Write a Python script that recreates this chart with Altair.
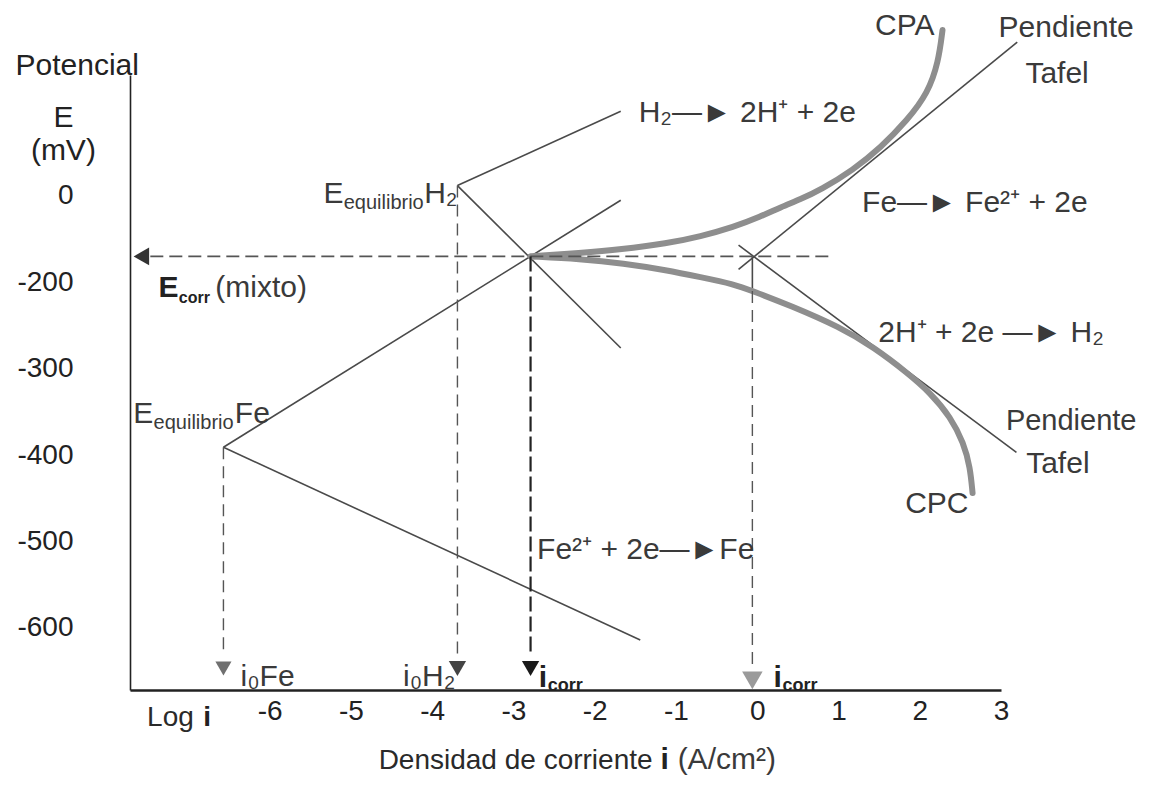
import altair as alt
import pandas as pd

# ---------------- axis ticks ----------------
x_tick_values = [-6, -5, -4, -3, -2, -1, 0, 1, 2, 3]
x_tick_labels = ["-6", "-5", "-4", "-3", "-2", "-1", "0", "1", "2", "3"]
y_tick_values = [-100, -200, -300, -400, -500, -600]
y_tick_labels = ["0", "-200", "-300", "-400", "-500", "-600"]

# ---------------- straight polarization lines (log i, E mV) ----------------
fe_anodic = [(-6.57, -391), (-1.68, -105)]
fe_cathodic = [(-6.57, -391), (-1.44, -614)]
h2_anodic = [(-3.69, -88), (-1.68, -2)]
h2_cathodic = [(-3.69, -88), (-1.68, -276)]
tafel_anodic = [(-0.23, -185), (3.20, 78)]
tafel_cathodic = [(-0.23, -157), (3.19, -397)]
icorr_stub = [(-0.06, -170), (-0.06, -210)]

# ---------------- measured polarization curves ----------------
cpa_x = [-2.79, -2.18, -1.68, -1.11, -0.70, -0.29, 0.04, 0.29, 0.53, 0.78, 1.18, 1.52, 1.85, 2.10, 2.23, 2.28]
cpa_y = [-170, -166, -162, -155, -147, -136, -124, -113, -104, -93, -70, -44, -12, 19, 55, 92]
cpc_x = [-2.79, -2.18, -1.65, -1.11, -0.70, -0.29, -0.06, 0.41, 1.02, 1.43, 1.85, 2.13, 2.38, 2.54, 2.62, 2.65]
cpc_y = [-170, -173, -178, -186, -194, -202, -210, -227, -252, -275, -305, -328, -356, -386, -414, -444]

# ---------------- dashed guides (x, y, x2, y2) ----------------
ecorr_guide = [(-7.47, -170, 0.93, -170)]
thin_guides = [(-6.57, -391, -6.57, -632), (-3.69, -88, -3.69, -632), (-0.06, -210, -0.06, -648)]
icorr_guide = [(-2.79, -170, -2.79, -632)]

# ---------------- arrowheads ----------------
head_i0fe = [(-6.57, -647)]
head_i0h2 = [(-3.69, -647)]
head_icorr = [(-2.79, -647)]
head_icorr2 = [(-0.06, -661)]
head_ecorr = [(-7.58, -170)]

# ---------------- texts (x, y, text) ----------------
label_texts = [
    (-1.46, -14.7, "H₂—► 2H⁺ + 2e"),
    (-5.34, -108.5, "E"),
    (-4.10, -108.5, "H₂"),
    (-6.67, -217.3, "(mixto)"),
    (1.29, -118.9, "Fe—► Fe²⁺ + 2e"),
    (1.49, -269.4, "2H⁺ + 2e —► H₂"),
    (2.97, 83.6, "Pendiente"),
    (3.30, 30.4, "Tafel"),
    (1.45, 86.0, "CPA"),
    (3.31, -421.0, "Tafel"),
    (1.82, -467.3, "CPC"),
    (-7.68, -363.1, "E"),
    (-6.43, -363.1, "Fe"),
    (-2.71, -520.5, "Fe²⁺ + 2e—►Fe"),
    (-6.36, -667.5, "i₀Fe"),
    (-4.36, -667.5, "i₀H₂"),
    (-0.98, -764.0, "(A/cm²)"),
]
edge_texts = [(3.06, -371.2, "Pendiente")]
small_texts = [
    (-7.51, -713.8, "Log"),
    (-4.66, -764.0, "Densidad de corriente"),
]
bold_texts = [
    (-7.37, -217.3, "E"),
    (-2.69, -668.7, "i"),
    (0.20, -668.7, "i"),
    (-1.19, -764.0, "i"),
]
bold_small_texts = [(-6.82, -713.8, "i")]
sub_texts = [(-5.09, -115.4, "equilibrio"), (-7.43, -370.1, "equilibrio")]
sub_bold_ecorr = [(-7.12, -224.2, "corr")]
sub_bold_icorr = [(-2.58, -673.3, "corr"), (0.31, -673.3, "corr")]
ytitle_texts = [(-8.37, 39.7, "Potencial"), (-8.54, -20.5, "E"), (-8.54, -58.7, "(mV)")]


def seg_df(segments):
    rows = []
    for k, pts in enumerate(segments):
        for j, (x, y) in enumerate(pts):
            rows.append({"seg": k, "o": j, "x": x, "y": y})
    return pd.DataFrame(rows)


def rule_df(rules):
    return pd.DataFrame(rules, columns=["x", "y", "x2", "y2"])


def pt_df(pts):
    return pd.DataFrame(pts, columns=["x", "y"])


def txt_df(items):
    return pd.DataFrame(items, columns=["x", "y", "t"])


def ternary(values, labels):
    expr = "''"
    for v, l in reversed(list(zip(values, labels))):
        expr = f"datum.value == {v} ? '{l}' : {expr}"
    return expr


FONT = "Liberation Sans, Arial, sans-serif"

xscale = alt.Scale(domain=[-7.72, 3.0], nice=False, zero=False)
yscale = alt.Scale(domain=[-672, 40], nice=False, zero=False)

X = alt.X("x:Q", scale=xscale, axis=alt.Axis(
    values=x_tick_values, labelExpr=ternary(x_tick_values, x_tick_labels),
    ticks=False, grid=False, title=None, labelFont=FONT, labelFontSize=28,
    labelColor="#222", domainColor="#222", domainWidth=2.5, labelPadding=7,
    labelFlush=False, labelOverlap=False))
Y = alt.Y("y:Q", scale=yscale, axis=alt.Axis(
    values=y_tick_values, labelExpr=ternary(y_tick_values, y_tick_labels),
    ticks=False, grid=False, title=None, labelFont=FONT, labelFontSize=28,
    labelColor="#222", domainColor="#222", domainWidth=1.6, labelPadding=57,
    labelFlush=False, labelOverlap=False))

lines = alt.Chart(seg_df([fe_anodic, fe_cathodic, h2_anodic, h2_cathodic,
                          tafel_anodic, tafel_cathodic, icorr_stub])).mark_line(
    color="#4a4a4a", strokeWidth=1.6).encode(x=X, y=Y, detail="seg:N", order="o:Q")

cpa = alt.Chart(pd.DataFrame({"x": cpa_x, "y": cpa_y})).mark_line(
    color="#8e8e8e", strokeWidth=6, interpolate="basis", strokeCap="round").encode(x=X, y=Y)
cpc = alt.Chart(pd.DataFrame({"x": cpc_x, "y": cpc_y})).mark_line(
    color="#8e8e8e", strokeWidth=6, interpolate="basis", strokeCap="round").encode(x=X, y=Y)

ecorr = alt.Chart(rule_df(ecorr_guide)).mark_rule(
    color="#555", strokeWidth=1.6, strokeDash=[13, 6]).encode(x=X, y=Y, x2="x2:Q", y2="y2:Q")
thin = alt.Chart(rule_df(thin_guides)).mark_rule(
    color="#555", strokeWidth=1.4, strokeDash=[12, 7]).encode(x=X, y=Y, x2="x2:Q", y2="y2:Q")
icorr = alt.Chart(rule_df(icorr_guide)).mark_rule(
    color="#222", strokeWidth=2.2, strokeDash=[15, 5]).encode(x=X, y=Y, x2="x2:Q", y2="y2:Q")


def head(pts, shape, color, size):
    return alt.Chart(pt_df(pts)).mark_point(
        shape=shape, filled=True, size=size, color=color, opacity=1, strokeWidth=0
    ).encode(x=X, y=Y)


heads = [
    head(head_i0fe, "triangle-down", "#707070", 260),
    head(head_i0h2, "triangle-down", "#444", 300),
    head(head_icorr, "triangle-down", "#1a1a1a", 300),
    head(head_icorr2, "triangle-down", "#9a9a9a", 420),
    head(head_ecorr, "triangle-left", "#333", 320),
]


def texts(items, size, weight="normal", color="#333", align="left"):
    return alt.Chart(txt_df(items)).mark_text(
        align=align, baseline="alphabetic", font=FONT, fontSize=size,
        fontWeight=weight, color=color).encode(x=X, y=Y, text="t:N")


layers = [lines, cpa, cpc, ecorr, thin, icorr] + heads + [
    texts(label_texts, 30, color="#3a3a3a"),
    texts(edge_texts, 29, color="#3a3a3a"),
    texts(small_texts, 28, color="#2a2a2a"),
    texts(bold_texts, 30, weight="bold", color="#222"),
    texts(bold_small_texts, 28, weight="bold", color="#222"),
    texts(sub_texts, 20, color="#3a3a3a"),
    texts(sub_bold_ecorr, 16, weight="bold", color="#222"),
    texts(sub_bold_icorr, 18, weight="bold", color="#222"),
    texts(ytitle_texts, 30, color="#222", align="center"),
]

chart = alt.layer(*layers).properties(
    width=871, height=615,
    padding={"left": 122, "top": 67, "right": 141, "bottom": 86},
    autosize=alt.AutoSizeParams(type="none"),
).configure_view(stroke=None)

chart.save("out.html", embed_options={"renderer": "svg", "actions": False})
